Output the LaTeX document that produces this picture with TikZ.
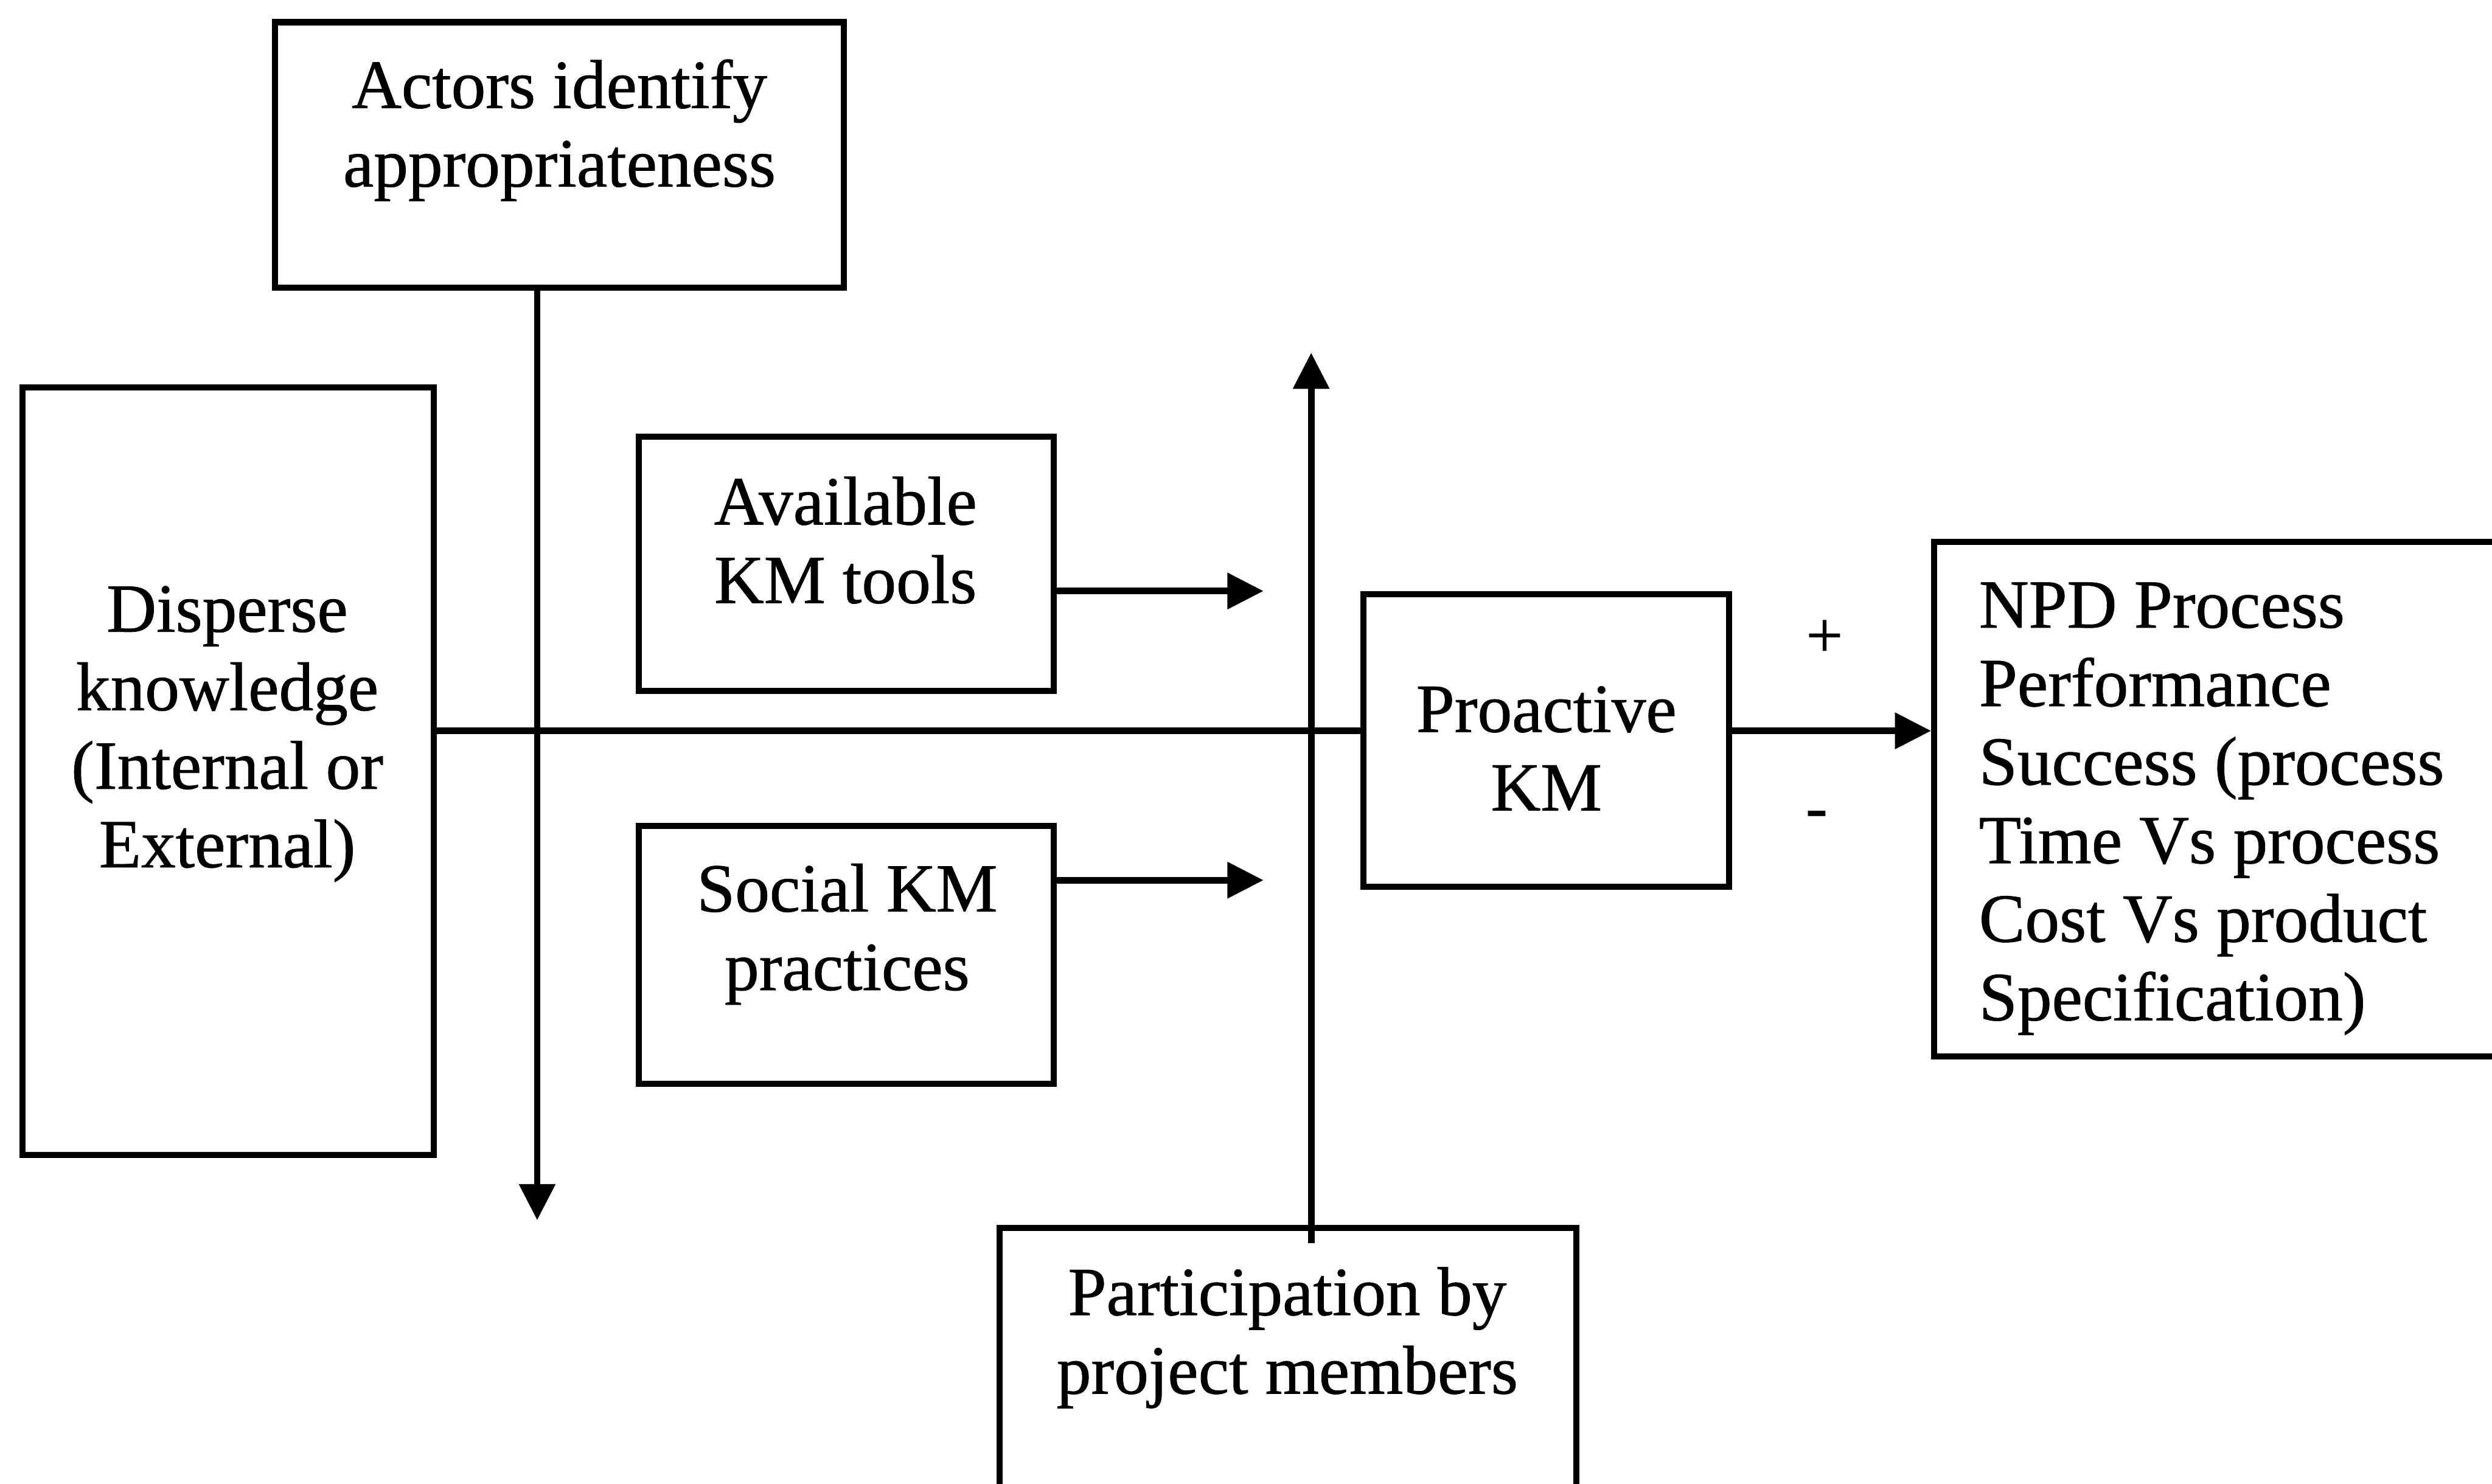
\documentclass[tikz,border=0pt]{standalone}
\usepackage{fontspec}
\setmainfont{Liberation Serif}[FakeBold=0.8]
\usetikzlibrary{arrows.meta,fit}
\begin{document}
\begin{tikzpicture}[x=0.030785cm,y=-0.030785cm,
  box/.style={draw, line width=3.4pt, inner sep=0pt, rectangle},
  txt/.style={inner sep=0pt, align=center, font=\fontsize{38}{43.3}\selectfont},
  sign/.style={inner sep=0pt, font=\fontsize{36}{40}\selectfont},
  link/.style={line width=3.6pt},
  arr/.style={link, -{Triangle[length=0.7cm,width=0.68cm]}}]
\useasboundingbox (0,0) rectangle (1568,934);
\clip (0,0) rectangle (1568,934);
\fill[white] (0,0) rectangle (1568,934);

% boxes
\node[box, fit={(173,14) (531,181)}] (actors) {};
\node[box, fit={(14,244) (273,727)}] (disp) {};
\node[box, fit={(402,275) (663,435)}] (avail) {};
\node[box, fit={(402,520) (663,682)}] (social) {};
\node[box, fit={(858,374) (1088,558)}] (pro) {};
\node[box, fit={(1217,341) (1600,665)}] (npd) {};
\node[box, fit={(629,773) (992,960)}] (part) {};

% box texts
\node[txt] (actorsT) at (352,82) {Actors identify\\appropriateness};
\node[txt] (dispT) at (143,462) {Disperse\\knowledge\\(Internal or\\External)};
\node[txt] (availT) at (532,340) {Available\\KM tools};
\node[txt] (socialT) at (533,588) {Social KM\\practices};
\node[txt] (proT) at (973,471) {Proactive\\KM};
\node[txt, align=left, anchor=west] (npdT) at (1245,509) {NPD Process\\Performance\\Success (process\\Time Vs process\\Cost Vs product\\Specification)};
\node[txt] (partT) at (810,842) {Participation by\\project members};

% signs on the outcome link
\node[sign] (plus) at (1148,402) {+};
\node[sign] (minus) at (1143,516) {-};

% free ends of the moderating arrows
\coordinate (actTip) at (338,768);
\coordinate (partTip) at (825,222);
\coordinate (availTip) at (795,372);
\coordinate (socTip) at (795,554);
\coordinate (row) at (0,460);

% connectors
\draw[arr] (actors.south -| actTip) -- (actTip);
\draw[arr, shorten <=-0.35cm] (part.north -| partTip) -- (partTip);
\draw[arr] (avail.east |- availTip) -- (availTip);
\draw[arr] (social.east |- socTip) -- (socTip);
\draw[link] (disp.east |- row) -- (pro.west |- row);
\draw[arr] (pro.east |- row) -- (npd.west |- row);
\end{tikzpicture}
\end{document}
